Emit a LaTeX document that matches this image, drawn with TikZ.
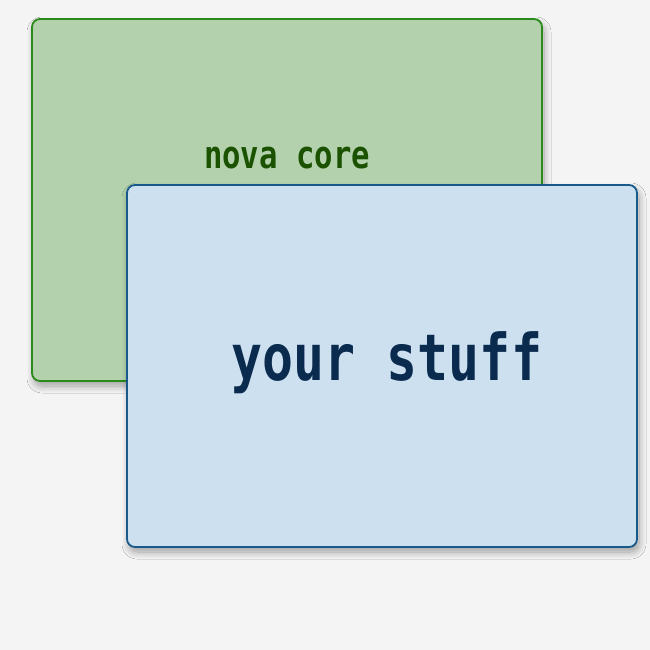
\documentclass[tikz,border=0pt]{standalone}
\usepackage{fontspec}
\setmainfont{Fira Sans}
\newfontfamily\cardmono{DejaVu Sans Mono}
\usetikzlibrary{shadows.blur}
\definecolor{bgc}{HTML}{F4F4F4}
\definecolor{gfill}{HTML}{B3D1AD}
\definecolor{gline}{HTML}{2A8A1A}
\definecolor{gtext}{HTML}{1A5200}
\definecolor{bfill}{HTML}{CCE0F0}
\definecolor{bline}{HTML}{1A5A8A}
\definecolor{btext}{HTML}{0A2A4E}
\tikzset{
  card/.style={draw, line width=1.8pt, rounded corners=8pt, minimum width=510pt, minimum height=362pt, inner sep=0pt,
    blur shadow={shadow xshift=2pt, shadow yshift=-5pt, shadow blur radius=7pt, shadow blur steps=12, shadow opacity=35}},
}
\begin{document}
\begin{tikzpicture}[x=1pt,y=-1pt]
\fill[bgc] (0,0) rectangle (650,650);
\useasboundingbox (0,0) rectangle (650,650);
\node[card, fill=gfill, draw=gline] (core) at (287,200) {};
\node[text=gtext, font=\cardmono\bfseries\fontsize{30.6}{30.6}\selectfont, anchor=base] (coret) at (287,168) {\scalebox{1}[1.25]{nova core}};
\node[card, fill=bfill, draw=bline] (stuff) at (382,366) {};
\node[text=btext, font=\cardmono\bfseries\fontsize{51.5}{51.5}\selectfont, anchor=base] (stufft) at (387,380) {\scalebox{1}[1.25]{your stuff}};
\end{tikzpicture}
\end{document}
